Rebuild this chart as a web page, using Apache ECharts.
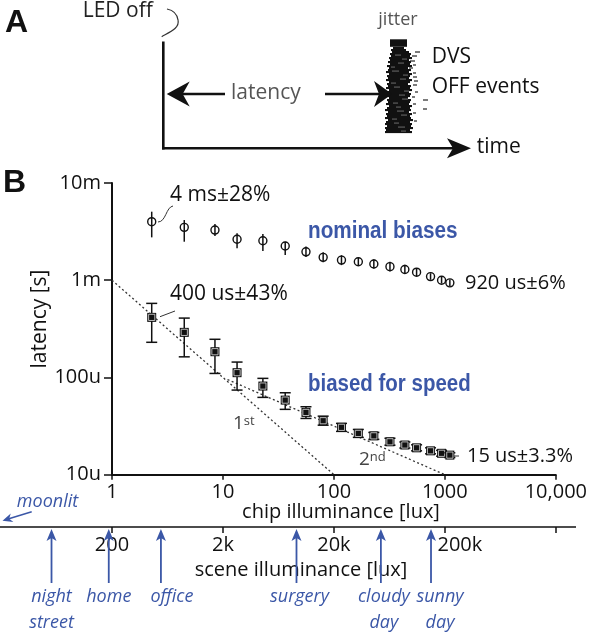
<!DOCTYPE html>
<html><head><meta charset="utf-8">
<script src="https://cdn.jsdelivr.net/npm/echarts@6/dist/echarts.min.js"></script>
<style>html,body{margin:0;padding:0;background:#fff}#c{width:590px;height:634px}</style>
</head><body><div id="c"></div><script>
// ---------- data ----------
const chipLux = [2.28, 4.48, 8.47, 13.4, 22.9, 36.4, 56, 80, 117, 166, 229, 320, 436, 556, 743, 934, 1109];
const nominalLatency = [4.0e-3, 3.5e-3, 3.28e-3, 2.64e-3, 2.55e-3, 2.25e-3, 1.96e-3, 1.72e-3, 1.61e-3, 1.55e-3, 1.47e-3, 1.38e-3, 1.29e-3, 1.21e-3, 1.09e-3, 1.0e-3, 0.94e-3];
const nominalLow  = [2.76e-3, 2.49e-3, 2.85e-3, 2.13e-3, 2.0e-3, 1.82e-3, 1.73e-3, 1.53e-3, 1.43e-3, 1.40e-3, 1.32e-3, 1.23e-3, 1.16e-3, 1.10e-3, 1.01e-3, 0.925e-3, 0.87e-3];
const nominalHigh = [5.07e-3, 4.16e-3, 3.79e-3, 3.04e-3, 2.99e-3, 2.49e-3, 2.22e-3, 1.94e-3, 1.81e-3, 1.71e-3, 1.64e-3, 1.55e-3, 1.44e-3, 1.33e-3, 1.18e-3, 1.08e-3, 1.015e-3];
const speedLatency = [4.15e-4, 2.91e-4, 1.84e-4, 1.12e-4, 8.16e-5, 5.85e-5, 4.37e-5, 3.59e-5, 3.07e-5, 2.66e-5, 2.51e-5, 2.18e-5, 2.02e-5, 1.89e-5, 1.76e-5, 1.66e-5, 1.59e-5];
const speedLow  = [2.30e-4, 1.63e-4, 1.10e-4, 7.42e-5, 6.24e-5, 4.70e-5, 3.79e-5, 3.23e-5, 2.79e-5, 2.42e-5, 2.31e-5, 2.01e-5, 1.88e-5, 1.76e-5, 1.64e-5, 1.55e-5, 1.50e-5];
const speedHigh = [5.78e-4, 4.08e-4, 2.47e-4, 1.44e-4, 9.79e-5, 6.96e-5, 5.00e-5, 4.00e-5, 3.37e-5, 2.92e-5, 2.72e-5, 2.37e-5, 2.17e-5, 2.03e-5, 1.89e-5, 1.78e-5, 1.68e-5];
const fit1st = [[1, 1e-3], [100, 1e-5]];
const fit2nd = [[11, 9.53e-5], [1000, 1e-5]];
const chipTicks = [1, 10, 100, 1000, 10000];
const chipTickLabels = ['1', '10', '100', '1000', '10,000'];
const sceneTickLabels = ['200', '2k', '20k', '200k', ''];
const latencyExp = [-2, -3, -4, -5];
const latencyTickLabels = ['10m', '1m', '100u', '10u'];
const sceneToChip = 200;
const sceneMarks = ['night\nstreet', 'home', 'office', 'surgery', 'cloudy\nday', 'sunny\nday'];
const sceneMarkLux = [57, 187, 552, 9200, 53000, 150000];
// raster of OFF events in panel A: [row y, start, end]
const rasterRows = [[48,393,404],[50,391,406],[52,392,409],[54,390,411],[56,391,410],[58,389,412],[60,390,409],[62,388,411],[64,390,410],[66,387,412],[68,389,408],[70,388,411],[72,386,409],[74,389,412],[76,387,410],[78,388,409],[80,386,412],[82,389,410],[84,387,408],[86,388,411],[88,386,410],[90,389,412],[92,387,409],[94,388,411],[96,386,410],[98,389,408],[100,387,411],[102,388,410],[104,386,409],[106,389,412],[108,387,410],[110,385,411],[112,388,409],[114,386,412],[116,387,410],[118,385,411],[120,388,413],[122,386,410],[124,385,412],[126,387,411],[128,385,413],[130,386,410],[132,385,412]];
const rasterGaps = [[55,395,401],[59,402,407],[63,398,404],[67,391,395],[71,392,399],[75,403,408],[79,400,406],[83,391,396],[87,394,400],[91,404,409],[95,399,405],[99,402,408],[103,393,398],[107,396,401],[111,397,404],[115,401,407],[119,392,397],[123,394,399],[127,398,405],[131,401,406]];
const rasterStrays = [[52,415,420],[56,412,417],[61,410,415],[65,413,416],[68,409,413],[73,413,416],[77,413,417],[81,414,418],[85,413,417],[92,415,418],[97,412,415],[100,423,428],[104,413,416],[109,423,427],[113,413,416],[121,414,417]];

// ---------- layout / style ----------
const FONT = 'Open Sans, Noto Sans, sans-serif';
const BLUE = '#3B57A7';
const sceneLabelDx = [0, 0, 11, 3, 3, 9];

function tickIndex(v) {
  return chipTicks.findIndex(t => Math.abs(Math.log10(t) - Math.log10(v)) < 1e-6);
}
function head(tx, ty, dx, dy, len, hw, notch) {
  const L = Math.hypot(dx, dy); const ux = dx / L, uy = dy / L; const px = -uy, py = ux;
  const bx = tx - ux * len, by = ty - uy * len;
  return [[tx, ty], [bx + px * hw, by + py * hw], [tx - ux * (len - notch), ty - uy * (len - notch)], [bx - px * hw, by - py * hw]];
}
function txt(text, x, y, o, extra) {
  return Object.assign({ type: 'text', x: x, y: y, style: Object.assign({ text: text, fontSize: 20, fontFamily: FONT, fill: '#111', align: 'left', verticalAlign: 'middle' }, o || {}) }, extra || {});
}
function bez(a, b, c, d, color, w) {
  return { type: 'bezierCurve', shape: { x1: a[0], y1: a[1], cpx1: b[0], cpy1: b[1], cpx2: c[0], cpy2: c[1], x2: d[0], y2: d[1] }, style: { stroke: color, lineWidth: w, fill: null } };
}

const graphics = [];
// Panel labels
graphics.push(txt('A', 5, 23, { fontSize: 32, fontWeight: 'bold', fontFamily: 'Liberation Sans, Arial, sans-serif' }));
graphics.push(txt('B', 3, 183, { fontSize: 32, fontWeight: 'bold', fontFamily: 'Liberation Sans, Arial, sans-serif' }));
// Panel A schematic
graphics.push({ type: 'line', shape: { x1: 163.3, y1: 41.5, x2: 163.3, y2: 149.5 }, style: { stroke: '#111', lineWidth: 2.6 } });
graphics.push({ type: 'line', shape: { x1: 162, y1: 148.3, x2: 455, y2: 148.3 }, style: { stroke: '#111', lineWidth: 2.6 } });
graphics.push({ type: 'polygon', shape: { points: head(471, 148.3, 1, 0, 24, 10, 6) }, style: { fill: '#111' } });
graphics.push({ type: 'line', shape: { x1: 182, y1: 94, x2: 225, y2: 94 }, style: { stroke: '#111', lineWidth: 2.6 } });
graphics.push({ type: 'polygon', shape: { points: head(166.7, 94, -1, 0, 23, 12.5, 7) }, style: { fill: '#111' } });
graphics.push(bez([161.7, 36.7], [170, 32], [180, 28], [178, 20], '#333', 1.2));
graphics.push(bez([178, 20], [177, 13], [172, 10], [167, 9], '#333', 1.2));
rasterRows.forEach(r => graphics.push({ type: 'rect', shape: { x: r[1], y: r[0] - 1, width: r[2] - r[1], height: 2.1 }, style: { fill: '#111' } }));
rasterGaps.forEach(r => graphics.push({ type: 'rect', shape: { x: r[1], y: r[0] - 0.3, width: r[2] - r[1], height: 0.7 }, style: { fill: '#fff', opacity: 0.55 } }));
rasterStrays.forEach(r => graphics.push({ type: 'rect', shape: { x: r[1], y: r[0] - 0.6, width: r[2] - r[1], height: 1.2 }, style: { fill: '#222' } }));
graphics.push({ type: 'line', shape: { x1: 325, y1: 94, x2: 382, y2: 94 }, style: { stroke: '#111', lineWidth: 2.6 } });
graphics.push({ type: 'polygon', shape: { points: head(392, 94, 1, 0, 18, 13, 5) }, style: { fill: '#111' } });
graphics.push({ type: 'rect', shape: { x: 390, y: 39.3, width: 17, height: 7.5 }, style: { fill: '#111' } });
graphics.push(txt('LED off', 82.7, 11, { fontSize: 21, fill: '#222' }));
graphics.push(txt('jitter', 398, 20, { fontSize: 18, fill: '#555', align: 'center' }));
graphics.push(txt('DVS', 431.7, 57, { fontSize: 21 }));
graphics.push(txt('OFF events', 431.7, 87, { fontSize: 21 }));
graphics.push(txt('latency', 231, 93, { fontSize: 21, fill: '#555' }));
graphics.push(txt('time', 476.7, 147, { fontSize: 21 }));
// Panel B annotations
graphics.push(txt('latency [s]', 40, 319, { fontSize: 21, align: 'center' }, { rotation: Math.PI / 2 }));
graphics.push(txt('4 ms\u00b128%', 170, 195, { fontSize: 21 }));
graphics.push(bez([158, 222], [166, 222], [166, 207], [173, 206], '#333', 1));
graphics.push(txt('400 us\u00b143%', 170, 294, { fontSize: 21 }));
graphics.push({ type: 'line', shape: { x1: 160, y1: 316.7, x2: 175, y2: 311 }, style: { stroke: '#333', lineWidth: 1 } });
graphics.push(txt('920 us\u00b16%', 465, 283, { fontSize: 20 }));
graphics.push(txt('15 us\u00b13.3%', 467, 456, { fontSize: 20 }));
graphics.push({ type: 'line', shape: { x1: 452, y1: 456, x2: 459, y2: 456 }, style: { stroke: '#333', lineWidth: 1 } });
graphics.push(txt('nominal biases', 308, 232, { fontSize: 23, fontWeight: 'bold', fill: BLUE, fontFamily: 'Liberation Sans, Arial, sans-serif' }, { scaleX: 0.9 }));
graphics.push(txt('biased for speed', 308, 385, { fontSize: 23, fontWeight: 'bold', fill: BLUE, fontFamily: 'Liberation Sans, Arial, sans-serif' }, { scaleX: 0.89 }));
graphics.push(txt('1{s|st}', 233, 424, { fontSize: 19, fill: '#444', rich: { s: { fontSize: 13, fill: '#444', verticalAlign: 'top', fontFamily: FONT } } }));
graphics.push(txt('2{s|nd}', 359, 460, { fontSize: 19, fill: '#444', rich: { s: { fontSize: 13, fill: '#444', verticalAlign: 'top', fontFamily: FONT } } }));
graphics.push(txt('chip illuminance [lux]', 341, 512, { fontSize: 20, align: 'center' }));
// scene axis line and title
graphics.push({ type: 'line', shape: { x1: 0, y1: 527, x2: 576, y2: 527 }, style: { stroke: '#111', lineWidth: 1.6 } });
graphics.push(txt('scene illuminance [lux]', 301, 570, { fontSize: 20, align: 'center' }));
graphics.push(txt('moonlit', 47.5, 502, { fontSize: 18, fontStyle: 'italic', fill: BLUE, align: 'center' }));
graphics.push({ type: 'line', shape: { x1: 31.7, y1: 511.7, x2: 8, y2: 519 }, style: { stroke: BLUE, lineWidth: 1.5 } });
graphics.push({ type: 'polygon', shape: { points: head(2.5, 520.7, -29, 9, 10, 4.5, 3) }, style: { fill: BLUE } });

const option = {
  animation: false,
  grid: { left: 112, top: 183, width: 444, height: 291.7, containLabel: false },
  xAxis: [{
    type: 'log', logBase: 10, min: 1, max: 10000,
    axisLine: { lineStyle: { color: '#111', width: 1.8 } },
    axisTick: { length: 5, lineStyle: { color: '#111', width: 1.5 } },
    splitLine: { show: false }, minorTick: { show: false },
    axisLabel: { fontSize: 20, fontFamily: FONT, color: '#111', margin: 8, formatter: v => chipTickLabels[tickIndex(v)] || '' }
  }, {
    type: 'log', logBase: 10, min: 1, max: 10000, position: 'bottom', offset: 52.3,
    axisLine: { show: false },
    axisTick: { show: true, length: 6, lineStyle: { color: '#111', width: 1.5 } },
    splitLine: { show: false },
    axisLabel: {
      fontSize: 20, fontFamily: FONT, color: '#111', margin: 8,
      formatter: v => { const i = tickIndex(v); return i === 3 ? '{r|' + sceneTickLabels[i] + '}' : (sceneTickLabels[i] || ''); },
      rich: { r: { fontSize: 20, fontFamily: FONT, color: '#111', padding: [0, 0, 0, 30] } }
    }
  }],
  yAxis: {
    type: 'log', logBase: 10, min: 1e-5, max: 1e-2,
    axisLine: { lineStyle: { color: '#111', width: 2 } },
    axisTick: { length: 8, lineStyle: { color: '#111', width: 1.5 } },
    splitLine: { show: false }, minorTick: { show: false },
    axisLabel: { fontSize: 20, fontFamily: FONT, color: '#111', margin: 11,
      formatter: v => { const i = latencyExp.indexOf(Math.round(Math.log10(v))); return i >= 0 ? latencyTickLabels[i] : ''; } }
  },
  series: [
    { type: 'line', data: fit1st, showSymbol: false, symbol: 'none', silent: true, lineStyle: { color: '#333', width: 1.3, type: [2, 2.5] }, z: 1 },
    { type: 'line', data: fit2nd, showSymbol: false, symbol: 'none', silent: true, lineStyle: { color: '#333', width: 1.3, type: [2, 2.5] }, z: 1 },
    {
      type: 'custom', z: 3, silent: true,
      data: chipLux.map((v, i) => [v, nominalLatency[i], nominalLow[i], nominalHigh[i]]),
      encode: { x: 0, y: 1 },
      renderItem: (params, api) => {
        const p = api.coord([api.value(0), api.value(1)]);
        const lo = api.coord([api.value(0), api.value(2)]);
        const hi = api.coord([api.value(0), api.value(3)]);
        return { type: 'group', children: [
          { type: 'line', shape: { x1: p[0], y1: lo[1], x2: p[0], y2: hi[1] }, style: { stroke: '#111', lineWidth: 1.5 } },
          { type: 'circle', shape: { cx: p[0], cy: p[1], r: 4 }, style: { fill: 'transparent', stroke: '#111', lineWidth: 1.4 } }
        ] };
      }
    },
    {
      type: 'custom', z: 3, silent: true,
      data: chipLux.map((v, i) => [v, speedLatency[i], speedLow[i], speedHigh[i]]),
      encode: { x: 0, y: 1 },
      renderItem: (params, api) => {
        const p = api.coord([api.value(0), api.value(1)]);
        const lo = api.coord([api.value(0), api.value(2)]);
        const hi = api.coord([api.value(0), api.value(3)]);
        const c = 5.5;
        return { type: 'group', children: [
          { type: 'line', shape: { x1: p[0], y1: lo[1], x2: p[0], y2: hi[1] }, style: { stroke: '#111', lineWidth: 1.5 } },
          { type: 'line', shape: { x1: p[0] - c, y1: lo[1], x2: p[0] + c, y2: lo[1] }, style: { stroke: '#111', lineWidth: 1.5 } },
          { type: 'line', shape: { x1: p[0] - c, y1: hi[1], x2: p[0] + c, y2: hi[1] }, style: { stroke: '#111', lineWidth: 1.5 } },
          { type: 'rect', shape: { x: p[0] - 4.5, y: p[1] - 4.5, width: 9, height: 9 }, style: { fill: '#111' } },
          { type: 'rect', shape: { x: p[0] - 3.1, y: p[1] - 3.1, width: 6.2, height: 6.2 }, style: { fill: 'none', stroke: '#ccc', lineWidth: 0.9 } }
        ] };
      }
    },
    {
      type: 'custom', z: 4, silent: true, clip: false,
      data: sceneMarkLux.map(v => [v / sceneToChip, 1e-5]),
      encode: { x: 0, y: 1 },
      renderItem: (params, api) => {
        const x = api.coord([api.value(0), 1e-5])[0];
        const i = params.dataIndex;
        return { type: 'group', children: [
          { type: 'line', shape: { x1: x, y1: 537, x2: x, y2: 583 }, style: { stroke: BLUE, lineWidth: 1.8 } },
          { type: 'polygon', shape: { points: head(x, 529, 0, -1, 12, 5, 3) }, style: { fill: BLUE } },
          { type: 'text', x: x + sceneLabelDx[i], y: 584, style: { text: sceneMarks[i], fontSize: 18, fontStyle: 'italic', fontFamily: FONT, fill: BLUE, align: 'center', verticalAlign: 'top', lineHeight: 26 } }
        ] };
      }
    }
  ],
  graphic: graphics
};
const chart = echarts.init(document.getElementById('c'), null, { renderer: 'canvas' });
chart.setOption(option);
</script></body></html>
